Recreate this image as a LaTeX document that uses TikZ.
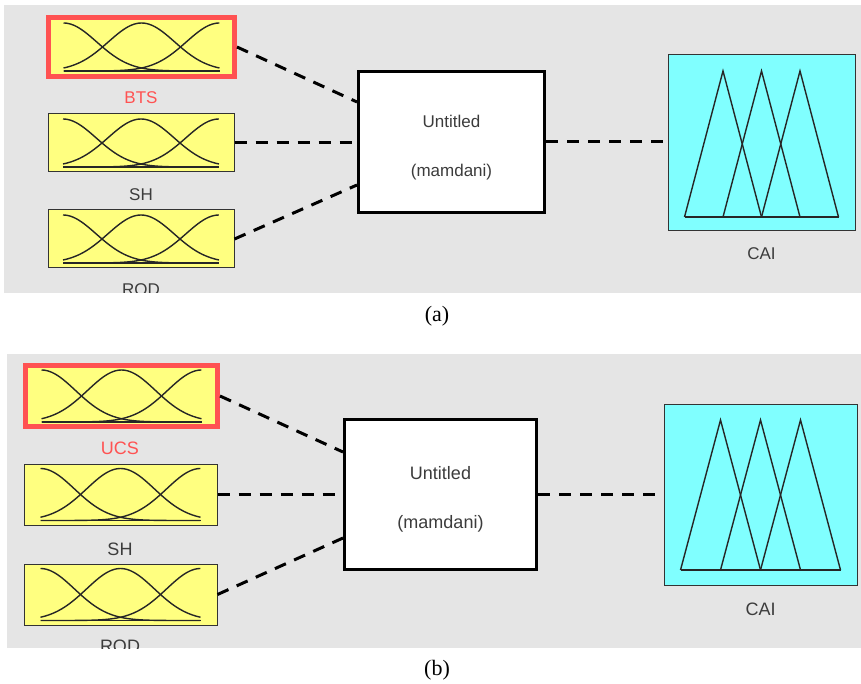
\documentclass[tikz,border=0pt]{standalone}
\usepackage{fontspec}
\setmainfont{Liberation Serif}
\newfontfamily\guifont{Liberation Sans}
\definecolor{panelgray}{RGB}{229,229,229}
\definecolor{mfyellow}{RGB}{255,255,128}
\definecolor{outcyan}{RGB}{128,255,255}
\definecolor{selred}{RGB}{255,82,82}
\definecolor{labelgray}{RGB}{60,60,60}

% gaussian membership functions inside an input box: node, half width, half height
\newcommand{\gaussmf}[3]{%
  \begin{scope}[shift={(#1.center)}]
    \foreach \ctr in {-1,0,1}
      \draw[mfline] plot[domain=-1:1, samples=61, smooth] ({#2*\x}, {#3-2*#3*exp(-0.5*((\x-(\ctr))/0.4247)^2)});
    \draw[mfline] (-#2,#3) -- (#2,#3);
  \end{scope}}

% triangular membership functions inside the output box: node, half width, top, bottom
\newcommand{\trimf}[4]{%
  \begin{scope}[shift={(#1.center)}]
    \foreach \p in {-1,0,1}
      \draw[mfline] ({(\p-1)*#2/2},#4) -- ({\p*#2/2},#3) -- ({(\p+1)*#2/2},#4);
    \draw[mfline] (-#2,#4) -- (#2,#4);
  \end{scope}}

\begin{document}
\begin{tikzpicture}[x=1pt, y=-1pt,
    inbox/.style 2 args={draw=black!80, line width=1pt, fill=mfyellow, inner sep=0pt, minimum width=#1, minimum height=#2},
    outbox/.style 2 args={draw=black!80, line width=1pt, fill=outcyan, inner sep=0pt, minimum width=#1, minimum height=#2},
    fisbox/.style 2 args={draw=black, line width=3pt, fill=white, inner sep=0pt, minimum width=#1, minimum height=#2},
    picked/.style={draw=selred, line width=5pt},
    gui/.style={font=\guifont\fontsize{17}{20}\selectfont, text=labelgray, anchor=base, inner sep=0pt},
    caption/.style={font=\fontsize{22}{26}\selectfont, anchor=base, inner sep=0pt},
    link/.style={line width=3pt, dash pattern=on 12pt off 9pt},
    mfline/.style={line width=1.4pt, black!85}]

  \useasboundingbox (0,0) rectangle (861,684);

  % Panel (a)
  \begin{scope}
    \clip (4,5) rectangle (861,293);
    \fill[panelgray] (4,5) rectangle (861,293);

    % Inputs
    \node[inbox={186pt}{59pt}, picked] (btsa) at (141.5,47) {};
    \node[inbox={186pt}{58pt}] (sha) at (141,143) {};
    \node[inbox={186pt}{58pt}] (roda) at (141,239) {};
    \foreach \n in {btsa, sha, roda} \gaussmf{\n}{78}{24};
    \node[gui, text=selred] (btsla) at (141,104) {BTS};
    \node[gui] (shla) at (141,201) {SH};
    \node[gui] (rodla) at (141,296) {ROD};

    % FIS block
    \node[fisbox={186pt}{141pt}] (fisa) at (451.5,142) {};
    \node[gui] (tita) at (451.5,128) {Untitled};
    \node[gui] (mama) at (451.5,177) {(mamdani)};

    % Output
    \node[outbox={187pt}{176pt}] (caia) at (761.5,143) {};
    \trimf{caia}{77}{-72}{74}
    \node[gui] (caila) at (761.5,260) {CAI};

    % Connections
    \coordinate (pa1) at ([yshift=40pt]fisa.west);
    \coordinate (pa3) at ([yshift=-43pt]fisa.west);
    \draw[link] (btsa.east) -- (pa1);
    \draw[link] (sha.east) -- (sha.east -| fisa.west);
    \draw[link] (roda.east) -- (pa3);
    \draw[link] (fisa.east) -- (fisa.east -| caia.west);
  \end{scope}
  \node[caption] (capa) at (437,321) {(a)};

  % Panel (b)
  \begin{scope}[gui/.append style={font=\guifont\fontsize{18}{21}\selectfont}]
    \clip (7,354) rectangle (861,648);
    \fill[panelgray] (7,354) rectangle (861,648);

    % Inputs
    \node[inbox={192pt}{61pt}, picked] (ucsb) at (121.5,396) {};
    \node[inbox={193pt}{61pt}] (shb) at (120.5,494.5) {};
    \node[inbox={193pt}{61pt}] (rodb) at (120.5,594.5) {};
    \foreach \n in {ucsb, shb, rodb} \gaussmf{\n}{80}{26};
    \node[gui, text=selred] (ucslb) at (120,454) {UCS};
    \node[gui] (shlb) at (120,555) {SH};
    \node[gui] (rodlb) at (120,652) {ROD};

    % FIS block
    \node[fisbox={192pt}{150pt}] (fisb) at (440.5,494.5) {};
    \node[gui] (titb) at (440.5,479) {Untitled};
    \node[gui] (mamb) at (440.5,528) {(mamdani)};

    % Output
    \node[outbox={193pt}{181pt}] (caib) at (760.5,494.5) {};
    \trimf{caib}{80}{-74.5}{75.5}
    \node[gui] (cailb) at (760.5,615) {CAI};

    % Connections
    \coordinate (pb1) at ([yshift=42.5pt]fisb.west);
    \coordinate (pb3) at ([yshift=-43.5pt]fisb.west);
    \draw[link] (ucsb.east) -- (pb1);
    \draw[link] (shb.east) -- (shb.east -| fisb.west);
    \draw[link] (rodb.east) -- (pb3);
    \draw[link] (fisb.east) -- (fisb.east -| caib.west);
  \end{scope}
  \node[caption] (capb) at (437,675) {(b)};
\end{tikzpicture}
\end{document}
